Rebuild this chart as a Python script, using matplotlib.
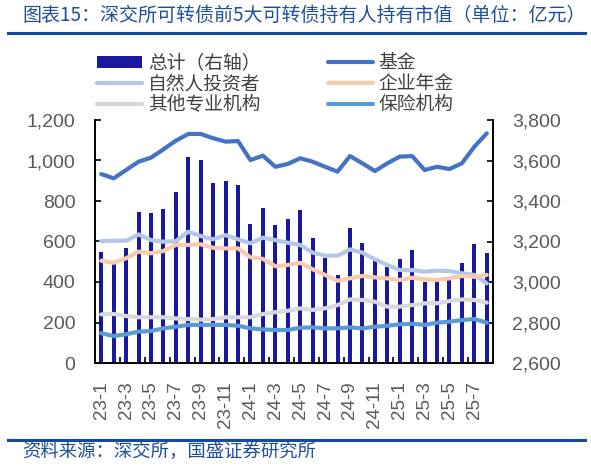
import matplotlib
matplotlib.use("Agg")
import matplotlib.pyplot as plt
from matplotlib.lines import Line2D
from matplotlib.ticker import FuncFormatter, FixedLocator
import numpy as np

plt.rcParams['font.family'] = ['Liberation Sans', 'Noto Sans CJK SC', 'DejaVu Sans']

# 月份
months = ['23-1', '23-2', '23-3', '23-4', '23-5', '23-6', '23-7', '23-8', '23-9', '23-10', '23-11', '23-12',
          '24-1', '24-2', '24-3', '24-4', '24-5', '24-6', '24-7', '24-8', '24-9', '24-10', '24-11', '24-12',
          '25-1', '25-2', '25-3', '25-4', '25-5', '25-6', '25-7', '25-8']

# 总计（右轴）
total = [3150, 3092, 3168, 3344, 3339, 3360, 3443, 3617, 3602, 3489, 3499, 3480,
         3285, 3365, 3283, 3313, 3357, 3219, 3117, 3035, 3268, 3191, 3112, 3076,
         3114, 3158, 3001, 3018, 3010, 3092, 3188, 3145]

# 左轴各类持有人
fund = [933, 912, 953, 994, 1014, 1055, 1098, 1131, 1131, 1110, 1093, 1096,
        1002, 1024, 969, 983, 1011, 994, 969, 945, 1022, 986, 948, 986,
        1019, 1022, 953, 969, 958, 986, 1068, 1134]
individual = [602, 604, 604, 635, 607, 599, 602, 648, 627, 611, 632, 611,
              591, 619, 607, 594, 583, 545, 530, 530, 561, 545, 512, 484,
              459, 459, 451, 456, 454, 443, 435, 393]
annuity = [505, 495, 517, 550, 542, 553, 583, 583, 586, 569, 566, 566,
           522, 514, 478, 484, 495, 463, 435, 406, 418, 430, 423, 418,
           410, 421, 413, 410, 418, 430, 426, 435]
other_inst = [240, 242, 232, 226, 226, 226, 220, 217, 214, 217, 226, 226,
              226, 242, 251, 258, 270, 262, 270, 286, 314, 311, 303, 278,
              278, 286, 295, 295, 306, 314, 311, 298]
insurance = [147, 133, 142, 155, 158, 171, 179, 188, 188, 188, 188, 184,
             171, 166, 163, 163, 174, 176, 171, 171, 176, 171, 179, 184,
             191, 194, 188, 199, 204, 212, 217, 199]

W, H = 591, 471
fig = plt.figure(figsize=(W / 100, H / 100), dpi=100)

x = np.arange(len(months))
ax_bar = fig.add_axes([95 / W, 1 - 363 / H, 398 / W, 243 / H])
ax = ax_bar.twinx()

bars = ax_bar.bar(x, total, width=0.32, color='#1919A0', label='总计（右轴）', zorder=2)
l1, = ax.plot(x, fund, color='#4472C4', lw=3, label='基金', solid_capstyle='round')
l2, = ax.plot(x, individual, color='#B4C7E7', lw=3, label='自然人投资者', solid_capstyle='round')
l3, = ax.plot(x, annuity, color='#F8CBAD', lw=3, label='企业年金', solid_capstyle='round')
l4, = ax.plot(x, other_inst, color='#D9D9D9', lw=3, label='其他专业机构', solid_capstyle='round')
l5, = ax.plot(x, insurance, color='#5B9BD5', lw=3, label='保险机构', solid_capstyle='round')

ax_bar.set_xlim(-0.5, len(months) - 0.5)
ax_bar.set_ylim(2600, 3800)
ax.set_ylim(0, 1200)

# 轴位置：柱子用右轴，折线用左轴
ax_bar.yaxis.tick_right()
ax.yaxis.tick_left()
ax_bar.set_yticks(np.arange(2600, 3801, 200))
ax.set_yticks(np.arange(0, 1201, 200))
fmt = FuncFormatter(lambda v, p: '{:,.0f}'.format(v))
ax_bar.yaxis.set_major_formatter(fmt)
ax.yaxis.set_major_formatter(fmt)

for a in (ax_bar, ax):
    a.spines['top'].set_visible(False)
    for s in ('left', 'right', 'bottom'):
        a.spines[s].set_color('black')
        a.spines[s].set_linewidth(1.2)
    a.tick_params(axis='y', direction='in', length=4, width=1.2,
                  labelsize=14, labelcolor='#595959', pad=14)

ax_bar.set_xticks(x[::2])
ax_bar.set_xticklabels(months[::2], rotation=90)
ax_bar.xaxis.set_minor_locator(FixedLocator(np.arange(1.5, len(months) - 1, 2)))
ax_bar.tick_params(axis='x', which='major', length=0, labelsize=13.5, labelcolor='#595959', pad=13)
ax_bar.tick_params(axis='x', which='minor', direction='in', length=4, width=1.2)

handles = [bars, l2, l4, l1, l3, l5]
fig.legend(handles=handles, labels=[h.get_label() for h in handles], ncol=2,
           loc='upper left', bbox_to_anchor=(88 / W, 1 - 43 / H), frameon=False,
           prop={'family': ['Noto Sans CJK SC'], 'size': 13.5}, labelcolor='#404040',
           borderpad=0, handlelength=2.4, handletextpad=0.3, columnspacing=3.6,
           labelspacing=0.0, handleheight=0.6)

# 标题、分隔线与来源
blue = '#0F4C9C'
fig.text(22 / W, 1 - 15 / H, '图表15：深交所可转债前5大可转债持有人持有市值（单位：亿元）',
         family=['Noto Sans CJK SC'], fontsize=13.7, color='#1F4E9A', style='italic',
         va='center', ha='left')
fig.add_artist(Line2D([8 / W, 585 / W], [1 - 33 / H, 1 - 33 / H], color=blue, lw=2.2))
fig.add_artist(Line2D([8 / W, 585 / W], [1 - 439.5 / H, 1 - 439.5 / H], color=blue, lw=2.2))
fig.text(22 / W, 1 - 453 / H, '资料来源：深交所，国盛证券研究所',
         family=['Noto Sans CJK SC'], fontsize=13.2, color='#1F4E9A', style='italic',
         va='center', ha='left')

fig.savefig('out.png', dpi=100)
